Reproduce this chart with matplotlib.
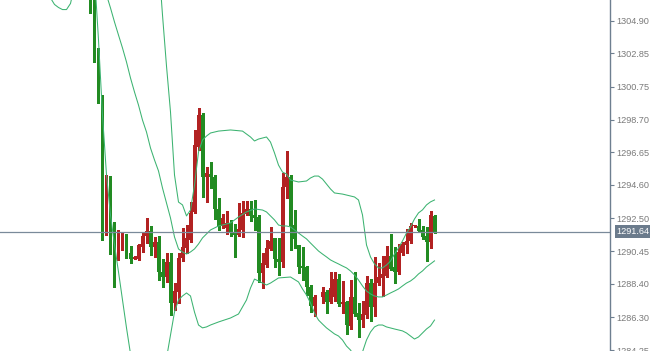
import matplotlib
matplotlib.use("Agg")
import matplotlib.pyplot as plt
import numpy as np

# bars, oldest first (None = empty bar)
opens = [1307.6, 1306.5, 1303.06, 1300.12, 1291.84, 1294.48, 1292.09, 1290.4, 1290.65, 1291.28,
         1290.34, 1289.96, 1289.96, 1290.72, 1291.4, 1291.72, 1290.72, 1291.03, 1289.15, 1288.83,
         1289.77, 1287.2, 1287.89, 1290.02, 1290.65, 1291.15, 1292.91, 1296.99, 1298.99, 1295.11,
         1295.3, 1295.11, 1293.1, 1292.03, 1291.9, 1292.22, 1291.65, 1291.46, 1291.78, 1292.78,
         1293.1, 1292.72, 1292.6, 1289.08, 1289.58, 1290.59, 1291.28, 1289.96, 1289.77, 1294.48,
         1295.11, 1292.09, 1290.84, 1289.52, 1289.46, 1288.2, 1287.01, None, 1287.58, 1287.89,
         1287.26, 1287.58, 1288.7, 1287.14, 1287.26, 1285.75, 1287.58, 1286.57, 1286.13, 1286.44,
         1288.45, 1286.95, 1288.45, 1288.77, 1288.89, 1290.15, 1289.46, 1289.14, 1290.34, 1290.84,
         1291.09, 1292.0, 1292.03, 1291.78, 1291.4, 1291.03, 1292.66]
highs = [1308.0, 1306.7, 1303.2, 1300.25, 1295.2, 1295.17, 1292.28, 1291.78, 1291.59, 1291.53,
         1290.78, 1290.15, 1290.9, 1291.6, 1292.53, 1292.03, 1291.34, 1291.4, 1289.96, 1290.34,
         1290.34, 1288.45, 1290.34, 1291.9, 1292.09, 1293.54, 1298.06, 1299.44, 1299.12, 1295.73,
         1296.05, 1295.23, 1293.79, 1292.78, 1292.97, 1292.41, 1292.16, 1293.47, 1293.6, 1293.6,
         1293.6, 1293.66, 1292.72, 1290.34, 1291.15, 1291.97, 1291.28, 1291.28, 1295.36, 1296.74,
         1295.23, 1293.04, 1290.84, 1290.72, 1289.52, 1288.3, 1287.7, None, 1288.2, 1288.0,
         1289.14, 1289.14, 1289.02, 1288.6, 1287.3, 1288.64, 1289.14, 1287.2, 1287.32, 1288.89,
         1288.7, 1290.09, 1289.71, 1290.15, 1290.78, 1291.53, 1290.72, 1290.9, 1291.03, 1291.84,
         1292.22, 1292.06, 1292.47, 1292.03, 1291.97, 1292.97, 1292.72]
lows = [1305.4, 1302.3, 1299.74, 1291.15, 1291.47, 1290.27, 1288.2, 1289.9, 1290.53, 1290.02,
        1289.71, 1289.93, 1289.9, 1290.4, 1290.97, 1290.2, 1290.08, 1288.64, 1288.2, 1288.52,
        1286.44, 1286.76, 1287.2, 1289.83, 1290.34, 1291.03, 1292.85, 1296.8, 1293.85, 1293.54,
        1294.42, 1292.47, 1291.78, 1291.9, 1291.53, 1291.4, 1290.09, 1291.4, 1291.34, 1292.72,
        1292.35, 1291.78, 1288.52, 1288.14, 1289.46, 1290.5, 1289.46, 1288.95, 1289.46, 1293.79,
        1290.53, 1290.66, 1289.08, 1288.64, 1287.7, 1286.63, 1286.38, None, 1287.2, 1286.57,
        1287.2, 1287.32, 1287.0, 1286.6, 1285.25, 1285.56, 1286.38, 1285.06, 1285.69, 1286.25,
        1286.07, 1286.38, 1288.3, 1287.64, 1288.83, 1289.27, 1288.45, 1289.02, 1290.21, 1290.34,
        1290.97, 1291.98, 1291.65, 1291.22, 1289.83, 1290.65, 1291.59]
closes = [1306.5, 1303.0, 1300.12, 1291.78, 1294.48, 1291.9, 1290.4, 1290.78, 1291.34, 1290.34,
          1289.96, 1290.08, 1290.84, 1291.4, 1291.72, 1290.72, 1291.03, 1289.15, 1288.83, 1289.77,
          1287.2, 1287.95, 1290.02, 1290.72, 1291.28, 1292.85, 1297.12, 1298.99, 1295.11, 1295.36,
          1295.11, 1293.1, 1292.03, 1292.53, 1292.22, 1291.59, 1291.46, 1291.84, 1292.85, 1293.1,
          1292.66, 1292.53, 1289.08, 1289.71, 1290.65, 1291.09, 1289.96, 1289.77, 1294.48, 1295.11,
          1292.03, 1291.22, 1289.46, 1289.4, 1288.2, 1287.01, 1287.58, None, 1287.89, 1287.26,
          1288.14, 1288.7, 1287.14, 1287.26, 1285.82, 1287.58, 1286.51, 1286.13, 1286.51, 1288.45,
          1286.95, 1288.45, 1288.83, 1289.02, 1290.15, 1289.33, 1289.14, 1290.4, 1290.9, 1291.09,
          1292.03, 1292.06, 1291.72, 1291.34, 1291.03, 1292.72, 1291.64]

# bollinger bands (bar index, price)
upper_idx = [17, 18, 19, 20, 21, 22, 23, 24, 25, 26, 27, 28, 29, 30, 32, 35, 38, 40, 41, 42,
             44, 45, 46, 47, 48, 49, 50, 52, 54, 55, 56, 57, 58, 59, 60, 61, 63, 65, 66, 67,
             68, 69, 70, 71, 72, 73, 74, 75, 76, 77, 78, 79, 80, 81, 82, 83, 84, 85, 86]
upper_val = [1308.71, 1305.26, 1302.06, 1299.18, 1295.23, 1293.53, 1293.35, 1292.66, 1293.03, 1294.60,
             1296.67, 1297.42, 1297.67, 1297.86, 1297.98, 1298.05, 1297.98, 1297.61, 1297.36, 1297.48,
             1297.61, 1297.29, 1296.61, 1295.85, 1295.41, 1295.29, 1294.91, 1294.79, 1294.85, 1295.04,
             1295.16, 1295.16, 1294.97, 1294.66, 1294.35, 1294.10, 1294.03, 1293.91, 1293.85, 1293.66,
             1292.72, 1290.84, 1290.09, 1289.65, 1289.40, 1289.40, 1289.58, 1289.83, 1290.27, 1290.65,
             1291.09, 1291.59, 1291.97, 1292.47, 1292.85, 1293.04, 1293.35, 1293.54, 1293.66]
middle_idx = [4, 5, 6, 7, 8, 9, 10, 11, 12, 13, 14, 15, 16, 17, 18, 19, 20, 21, 22, 23,
              24, 25, 26, 27, 28, 29, 30, 32, 35, 37, 39, 41, 43, 44, 45, 46, 47, 48, 49, 50,
              51, 52, 53, 54, 55, 56, 57, 58, 59, 60, 61, 62, 63, 64, 65, 66, 67, 68, 69, 70,
              71, 72, 73, 74, 75, 76, 77, 78, 79, 80, 81, 82, 83, 84, 85, 86]
middle_val = [1306.52, 1305.70, 1304.82, 1304.00, 1303.19, 1302.31, 1301.31, 1300.43, 1299.61, 1298.67,
              1297.92, 1296.92, 1296.17, 1295.48, 1294.41, 1293.47, 1292.53, 1291.34, 1290.59, 1290.40,
              1290.27, 1290.40, 1290.59, 1290.90, 1291.28, 1291.53, 1291.78, 1292.03, 1292.22, 1292.59,
              1292.91, 1293.10, 1293.03, 1292.91, 1292.66, 1292.41, 1292.09, 1292.03, 1292.03, 1291.97,
              1291.78, 1291.59, 1291.40, 1291.22, 1290.96, 1290.71, 1290.46, 1290.27, 1290.09, 1289.90,
              1289.77, 1289.65, 1289.52, 1289.40, 1289.21, 1288.96, 1288.64, 1288.27, 1287.95, 1287.77,
              1287.64, 1287.58, 1287.58, 1287.70, 1287.83, 1287.95, 1288.08, 1288.27, 1288.45, 1288.58,
              1288.77, 1289.02, 1289.21, 1289.46, 1289.65, 1289.84]
lower_idx = [-10, -9, -8, -7, -6, -5, -4, -3, 1, 2, 3, 4, 5, 6, 7, 8, 9, 10, 11,
             18, 19, 20, 21, 22, 23, 24, 25, 26, 27, 28, 29, 30, 32, 35, 37, 39, 40, 41, 42,
             44, 45, 47, 50, 52, 53, 54, 55, 56, 57, 58, 59, 60, 61, 62, 63, 64, 65, 66, 67,
             68, 69, 70, 71, 72, 73, 74, 76, 78, 79, 80, 81, 82, 83, 84, 85, 86]
lower_val = [1306.33, 1305.92, 1305.73, 1305.60, 1305.60, 1305.98, 1307.10, None, 1307.80, 1303.69,
             1298.98, 1295.23, 1292.72, 1290.84, 1289.15, 1287.39, 1285.64, 1284.01, None,
             1282.50, 1283.74, 1285.19, 1286.63, 1287.39, 1287.64, 1287.83, 1287.64, 1286.63, 1285.82,
             1285.64, 1285.70, 1285.82, 1286.01, 1286.26, 1286.51, 1287.39, 1288.14, 1288.70, 1288.58,
             1288.33, 1288.45, 1288.77, 1288.83, 1288.52, 1288.08, 1287.70, 1287.20, 1286.57, 1286.13,
             1285.88, 1285.64, 1285.45, 1285.26, 1285.13, 1284.88, 1284.50, 1284.25, 1283.87, 1283.62,
             1284.13, 1284.88, 1285.38, 1285.70, 1285.82, 1285.82, 1285.70, 1285.57, 1285.45, 1285.32,
             1285.13, 1284.94, 1285.07, 1285.32, 1285.57, 1285.76, 1286.13]

price_ticks = [1304.90, 1302.85, 1300.75, 1298.70, 1296.65, 1294.60, 1292.50, 1290.45,
               1288.40, 1286.30, 1284.25]
last_price = 1291.64

UP = "#b22222"
DOWN = "#228b22"
BAND = "#3cb371"
AXC = "#6e7f90"

fig = plt.figure(figsize=(6.5, 3.51), dpi=100)
ax = fig.add_axes([0, 0, 610 / 650, 1])

o = np.array(opens, dtype=float)
h = np.array(highs, dtype=float)
l = np.array(lows, dtype=float)
c = np.array(closes, dtype=float)
x = np.arange(len(o))
ok = ~np.isnan(o)
col = np.where(c >= o, UP, DOWN)

# wicks then bodies
ax.vlines(x[ok], l[ok], h[ok], colors=col[ok], linewidth=0.75, antialiased=False)
body = np.maximum(np.abs(c - o), 0.07)
ax.bar(x[ok], body[ok], bottom=np.minimum(o, c)[ok], width=0.7, color=col[ok],
       linewidth=0, antialiased=False)

for idx, val in [(upper_idx, upper_val), (middle_idx, middle_val), (lower_idx, lower_val)]:
    ax.plot(idx, np.array(val, dtype=float), color=BAND, linewidth=0.75)

ax.axhline(last_price, color="#7a8a9a", linewidth=0.9)

ax.set_xlim(-90.5 / 4, (610 - 90.5) / 4)
ax.set_ylim(1284.19, 1306.20)
ax.set_xticks([])
ax.yaxis.tick_right()
ax.set_yticks(price_ticks)
ax.set_yticklabels(["%.2f" % t for t in price_ticks])
ax.tick_params(axis="y", length=3, width=0.8, color=AXC, pad=1.5,
               labelsize=6.6, labelcolor="#7a7a7a")
for s in ["top", "left", "bottom"]:
    ax.spines[s].set_visible(False)
ax.spines["right"].set_color(AXC)
ax.spines["right"].set_linewidth(1.0)
for t in ax.get_yticklabels():
    t.set_fontfamily("Liberation Sans")

ax.annotate("%.2f" % last_price, xy=(1.0, last_price), xycoords=("axes fraction", "data"),
            xytext=(4.5, 0.5), textcoords="offset points", va="center", ha="left",
            fontsize=6.6, family="Liberation Sans", color="white",
            bbox=dict(boxstyle="square,pad=0.18", fc="#6b7b8c", ec="none"))

fig.savefig("out.png", dpi=100)
